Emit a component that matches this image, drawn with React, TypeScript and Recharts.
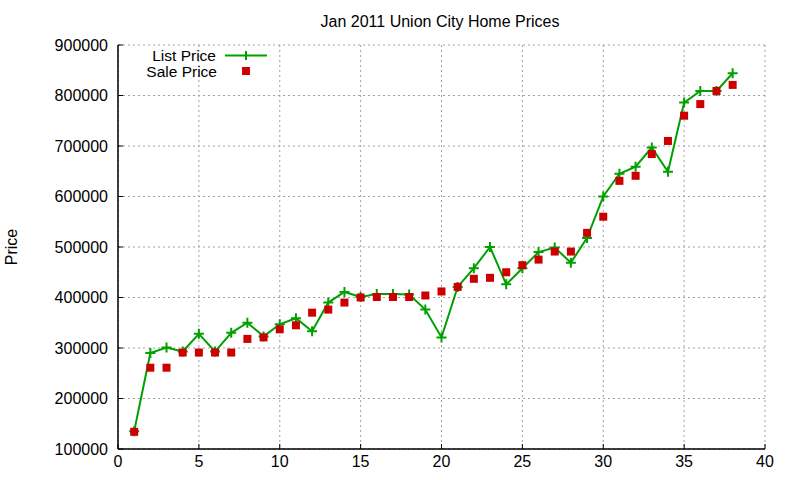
import React from 'react';
import {
  ComposedChart,
  Line,
  XAxis,
  YAxis,
  CartesianGrid,
  Customized,
} from 'recharts';

const xValues = [
  1, 2, 3, 4, 5, 6, 7, 8, 9, 10, 11, 12, 13, 14, 15, 16, 17, 18, 19,
  20, 21, 22, 23, 24, 25, 26, 27, 28, 29, 30, 31, 32, 33, 34, 35, 36, 37, 38,
];

const listPrice = [
  135000, 290000, 301000, 293000, 328000, 293000, 330000, 350000, 323000, 347000,
  359000, 333000, 390000, 411000, 401000, 407000, 407000, 406000, 376000, 321000,
  421000, 458000, 500000, 426000, 458000, 490000, 499000, 469000, 518000, 600000,
  645000, 659000, 697000, 649000, 786000, 809000, 809000, 844000,
];

const salePrice = [
  134000, 261000, 261000, 291000, 291000, 291000, 291000, 318000, 321000, 337000,
  345000, 370000, 376000, 390000, 400000, 401000, 401000, 401000, 404000, 412000,
  421000, 437000, 439000, 450000, 464000, 475000, 491000, 491000, 528000, 560000,
  631000, 641000, 684000, 710000, 760000, 783000, 809000, 821000,
];

const xTicks = [0, 5, 10, 15, 20, 25, 30, 35, 40];
const yTicks = [100000, 200000, 300000, 400000, 500000, 600000, 700000, 800000, 900000];

const GREEN = '#00a000';
const RED = '#cc0000';
const FONT = '"Liberation Sans", Arial, sans-serif';

const data = xValues.map((x, i) => ({ x, list: listPrice[i], sale: salePrice[i] }));

const PlusDot = (props: any) => {
  const { cx, cy, index } = props;
  if (cx == null || cy == null) return null;
  return (
    <path
      key={`plus-${index}`}
      d={`M${cx - 5},${cy}h10M${cx},${cy - 5}v10`}
      stroke={GREEN}
      strokeWidth={2}
      fill="none"
    />
  );
};

const SquareDot = (props: any) => {
  const { cx, cy, index } = props;
  if (cx == null || cy == null) return null;
  return <rect key={`sq-${index}`} x={cx - 4} y={cy - 4} width={8} height={8} fill={RED} />;
};

// title, key box and y label, drawn straight into the svg
const Overlay = () => (
  <g fontFamily={FONT} fill="#000">
    <text x={440} y={27} fontSize={16} textAnchor="middle">Jan 2011 Union City Home Prices</text>
    <text x={17} y={247} fontSize={16} textAnchor="middle" transform="rotate(-90 17 247)">Price</text>
    <text x={216} y={60.5} fontSize={15.5} textAnchor="end">List Price</text>
    <line x1={225} y1={55.5} x2={267} y2={55.5} stroke={GREEN} strokeWidth={2} />
    <path d="M246,51v9" stroke={GREEN} strokeWidth={2} />
    <text x={217} y={76.5} fontSize={15.5} textAnchor="end">Sale Price</text>
    <rect x={242} y={67} width={8} height={8} fill={RED} />
  </g>
);

const tickStyle = { fontSize: 16, fill: '#000', fontFamily: FONT };

export default function App() {
  return (
    <div style={{ position: 'absolute', left: 0, top: 0, background: '#fff' }}>
      <ComposedChart
        width={800}
        height={480}
        data={data}
        margin={{ top: 45, right: 35, bottom: 0, left: 0 }}
        style={{ fontFamily: FONT }}
      >
        <CartesianGrid stroke="#a0a0a0" strokeDasharray="2 3" />
        <XAxis
          dataKey="x"
          type="number"
          domain={[0, 40]}
          ticks={xTicks}
          interval={0}
          height={31}
          tickSize={-5}
          tickMargin={12}
          tick={tickStyle}
          stroke="#000"
          axisLine={{ stroke: '#000', strokeWidth: 1.5 }}
          tickLine={{ stroke: '#000' }}
        />
        <XAxis
          xAxisId="top"
          orientation="top"
          type="number"
          domain={[0, 40]}
          ticks={xTicks}
          interval={0}
          height={0}
          tickSize={-5}
          tick={false}
          axisLine={{ stroke: '#000', strokeWidth: 1.5 }}
          tickLine={{ stroke: '#000' }}
        />
        <YAxis
          type="number"
          domain={[100000, 900000]}
          ticks={yTicks}
          interval={0}
          width={118}
          tickSize={-5}
          tickMargin={15}
          tick={tickStyle}
          axisLine={{ stroke: '#000', strokeWidth: 1.5 }}
          tickLine={{ stroke: '#000' }}
        />
        <YAxis
          yAxisId="right"
          orientation="right"
          type="number"
          domain={[100000, 900000]}
          ticks={yTicks}
          interval={0}
          width={0}
          tickSize={-5}
          tick={false}
          axisLine={{ stroke: '#000', strokeWidth: 1.5 }}
          tickLine={{ stroke: '#000' }}
        />
        <Line
          dataKey="list"
          stroke={GREEN}
          strokeWidth={2}
          dot={PlusDot}
          activeDot={false}
          isAnimationActive={false}
        />
        <Line
          dataKey="sale"
          stroke="none"
          dot={SquareDot}
          activeDot={false}
          isAnimationActive={false}
        />
        <Customized component={Overlay} />
      </ComposedChart>
    </div>
  );
}
